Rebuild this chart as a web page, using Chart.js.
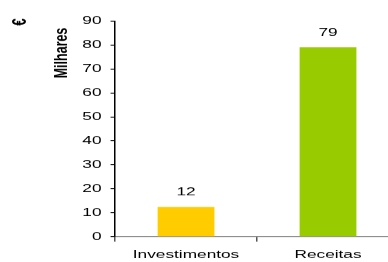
<!DOCTYPE html>
<html>
<head>
<meta charset="utf-8">
<script src="https://cdn.jsdelivr.net/npm/chart.js@4/dist/chart.umd.min.js"></script>
<style>
  html, body { margin: 0; padding: 0; background: #fff; overflow: hidden; }
  #wrap { width: 388px; height: 262px; overflow: hidden; }
  /* the source picture is stretched sideways, so the canvas is too */
  #chart { transform: scaleX(1.5); transform-origin: 0 0; }
</style>
</head>
<body>
<div id="wrap"><canvas id="chart" width="266" height="262"></canvas></div>
<script>
const categories = ["Investimentos", "Receitas"];
const values = [12.4, 79];
const yTicks = [0, 10, 20, 30, 40, 50, 60, 70, 80, 90];
const unitLabel = "€";
const axisTitle = "Milhares";

const FONT = "'Liberation Sans', Arial, sans-serif";

// ----- value labels over bars + rotated titles -----
const extras = {
  id: "extras",
  afterDatasetsDraw(chart) {
    const ctx = chart.ctx;
    const meta = chart.getDatasetMeta(0);
    ctx.save();
    ctx.fillStyle = "#000";
    ctx.font = "11.5px " + FONT;
    ctx.textAlign = "center";
    ctx.textBaseline = "middle";
    meta.data.forEach((bar, i) => {
      ctx.fillText(Math.round(values[i]), bar.x, bar.y - 14.5);
    });

    ctx.font = "bold 12.5px " + FONT;
    ctx.translate(41, 53);
    ctx.rotate(-Math.PI / 2);
    ctx.fillText(axisTitle, 0, 0);
    ctx.restore();

    ctx.save();
    ctx.fillStyle = "#000";
    ctx.font = "bold 13px " + FONT;
    ctx.textAlign = "center";
    ctx.textBaseline = "middle";
    ctx.translate(13.5, 22);
    ctx.rotate(-Math.PI / 2);
    ctx.fillText(unitLabel, 0, 0);
    ctx.restore();
  }
};

new Chart(document.getElementById("chart"), {
  type: "bar",
  data: {
    labels: categories,
    datasets: [{
      data: values,
      backgroundColor: ["#FFCC00", "#99CC00"],
      borderWidth: 0,
      barPercentage: 0.4,
      categoryPercentage: 1
    }]
  },
  options: {
    responsive: false,
    animation: false,
    devicePixelRatio: 1.5,
    layout: { padding: { top: 21, left: 0, right: 0, bottom: 0 } },
    plugins: {
      legend: { display: false },
      tooltip: { enabled: false }
    },
    scales: {
      x: {
        offset: true,
        grid: {
          offset: true,
          drawOnChartArea: false,
          tickLength: 5,
          color: "#555"
        },
        border: { color: "#808080", width: 1 },
        ticks: {
          color: "#000",
          padding: 6,
          font: { family: FONT, size: 11.5 }
        },
        afterFit: s => { s.height = 25.3; }
      },
      y: {
        min: 0,
        max: 90,
        afterBuildTicks: s => { s.ticks = yTicks.map(v => ({ value: v })); },
        grid: {
          drawOnChartArea: false,
          tickLength: 3,
          color: "#000"
        },
        border: { color: "#000", width: 1 },
        ticks: {
          color: "#000",
          padding: 6,
          font: { family: FONT, size: 11.5 }
        },
        afterFit: s => { s.width = 76.7; }
      }
    }
  },
  plugins: [extras]
});
</script>
</body>
</html>
